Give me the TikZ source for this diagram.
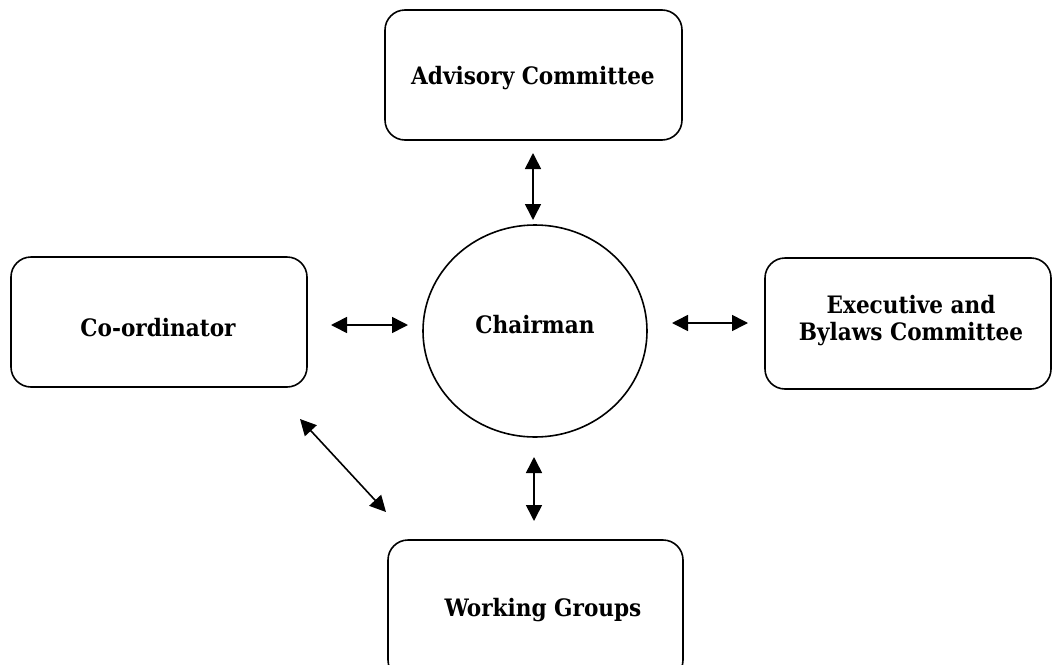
\documentclass[tikz,border=0pt]{standalone}
\usepackage{fontspec}
\setmainfont{DejaVu Serif Condensed}
\usetikzlibrary{arrows.meta,shapes.geometric}
\begin{document}
\begin{tikzpicture}[x=1pt,y=-1pt,
  box/.style={draw, line width=1.6pt, rounded corners=20pt, inner sep=0pt},
  txt/.style={inner sep=0pt, font=\fontsize{24}{27}\selectfont\bfseries, align=center},
  circ/.style={draw, ellipse, line width=1.6pt, inner sep=0pt,
    minimum width=224pt, minimum height=212pt},
  link/.style={line width=1.6pt, {Triangle[length=16pt,width=16pt]}-{Triangle[length=16pt,width=16pt]}}
]
\useasboundingbox (0,0) rectangle (1052,664);
\node[box, minimum width=297pt, minimum height=130pt] (adv) at (533.5,75) {};
\node[box, minimum width=296pt, minimum height=130pt] (coord) at (159,322) {};
\node[box, minimum width=286pt, minimum height=131pt] (exec) at (908,323.5) {};
\node[box, minimum width=295pt, minimum height=140pt] (work) at (535.5,610) {};
\node[circ] (chair) at (535,331) {};

\node[txt] (advT) at (533,78) {Advisory Committee};
\node[txt] (coordT) at (158,328) {Co-ordinator};
\node[txt] (execT) at (911,321) {Executive and\\Bylaws Committee};
\node[txt] (workT) at (543,610) {Working Groups};
\node[txt] (chairT) at (535,325) {Chairman};

\coordinate (t1) at (533,153);
\coordinate (t2) at (533,220);
\coordinate (b1) at (534,457);
\coordinate (b2) at (534,521);
\coordinate (l1) at (331,325);
\coordinate (l2) at (408,325);
\coordinate (r1) at (672,323);
\coordinate (r2) at (748,323);
\coordinate (d1) at (300,419);
\coordinate (d2) at (386,512);

\draw[link] (t1) -- (t2);
\draw[link] (b1) -- (b2);
\draw[link] (l1) -- (l2);
\draw[link] (r1) -- (r2);
\draw[link] (d1) -- (d2);
\end{tikzpicture}
\end{document}
